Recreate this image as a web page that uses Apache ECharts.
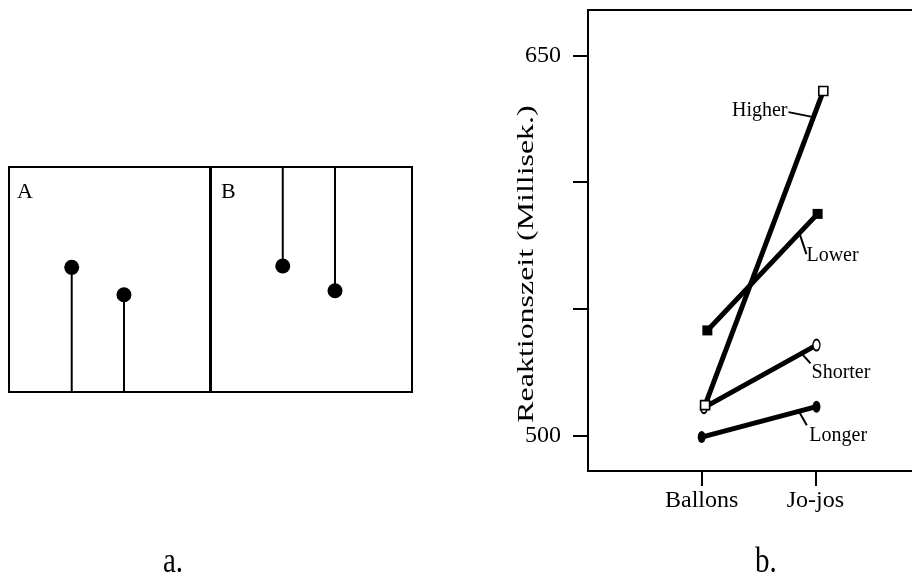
<!DOCTYPE html>
<html><head><meta charset="utf-8">
<script src="https://cdn.jsdelivr.net/npm/echarts@6/dist/echarts.min.js"></script>
<style>html,body{margin:0;padding:0;background:#fff}#c{width:912px;height:576px}</style>
</head><body><div id="c"></div>
<script>
// ---------- data ----------
const categories = ['Ballons', 'Jo-jos'];
const yTickValues = [500, 550, 600, 650];
const yLabelValues = [500, 650];
// panel b: reaction time (ms); X = position on the category scale (0 = Ballons, 1 = Jo-jos), slightly jittered as in the original
const higherX = [0.03, 1.07],  higherY = [512, 636];
const lowerX = [0.05, 1.02],   lowerY = [541.5, 587.5];
const shorterX = [0.02, 1.01], shorterY = [511, 535.7];
const longerX = [0.0, 1.01],   longerY = [499.4, 511.4];
// panel a: dots (x in % of box width, y in % of box height from bottom)
const boxAX = [31.2, 57.2], boxAY = [55.4, 43.2];
const boxBX = [35.7, 61.7], boxBY = [56.0, 45.0];

// ---------- chart ----------
const FONT = '"Liberation Serif", "DejaVu Serif", serif';
const chart = echarts.init(document.getElementById('c'), null, {renderer: 'canvas'});

function pts(xs, ys) { return xs.map((x, i) => [x, ys[i]]); }

function stemSeries(xs, ys, base, gi) {
  return {
    type: 'custom', xAxisIndex: gi, yAxisIndex: gi, silent: true, z: 2,
    data: pts(xs, ys),
    renderItem: (params, api) => {
      const p = api.coord([api.value(0), api.value(1)]);
      const q = api.coord([api.value(0), base]);
      return {type: 'line', shape: {x1: p[0], y1: p[1], x2: q[0], y2: q[1]},
              style: {stroke: '#000', lineWidth: 2}};
    }
  };
}
function dotSeries(xs, ys, gi) {
  return {type: 'scatter', xAxisIndex: gi, yAxisIndex: gi, silent: true, z: 3,
          symbol: 'circle', symbolSize: 15, itemStyle: {color: '#000', opacity: 1}, data: pts(xs, ys)};
}

const annots = [
  {name: 'Higher',  xs: higherX,  ys: higherY,  t: 0.917, lead: [-25, -5], text: [-26, -6],  align: 'right'},
  {name: 'Lower',   xs: lowerX,   ys: lowerY,   t: 0.835, lead: [7, 21],   text: [7, 23],    align: 'left'},
  {name: 'Shorter', xs: shorterX, ys: shorterY, t: 0.867, lead: [9, 10],   text: [10, 19.5], align: 'left'},
  {name: 'Longer',  xs: longerX,  ys: longerY,  t: 0.846, lead: [8, 14],   text: [10.5, 24], align: 'left'}
];

function lineSeries(name, xs, ys, symbol, size, filled) {
  return {
    type: 'line', name, xAxisIndex: 3, yAxisIndex: 2, z: 3, silent: true,
    data: pts(xs, ys), symbol, symbolSize: size, showSymbol: true,
    lineStyle: {color: '#000', width: 5},
    itemStyle: {color: filled ? '#000' : '#fff', borderColor: '#000', borderWidth: filled ? 0 : 1.6, opacity: 1}
  };
}

const showIdx = (i) => i === 1 || i === 2;
const gridBase = {show: true, borderColor: '#000', borderWidth: 2, backgroundColor: 'transparent',
                  containLabel: false, outerBoundsMode: 'none'};

const option = {
  backgroundColor: '#fff',
  animation: false,
  grid: [
    Object.assign({left: 9, top: 167, width: 201, height: 225}, gridBase),
    Object.assign({left: 211, top: 167, width: 201, height: 225}, gridBase),
    Object.assign({left: 588, top: 10, width: 341, height: 461}, gridBase)
  ],
  xAxis: [
    {gridIndex: 0, type: 'value', min: 0, max: 100, show: false},
    {gridIndex: 1, type: 'value', min: 0, max: 100, show: false},
    {gridIndex: 2, type: 'category', data: ['', ...categories, ''], boundaryGap: false,
     axisLine: {onZero: false, lineStyle: {color: '#000', width: 2}},
     axisTick: {interval: showIdx, length: 15, lineStyle: {color: '#000', width: 2}},
     axisLabel: {interval: showIdx, color: '#000', fontFamily: FONT, fontSize: 24, margin: 18},
     splitLine: {show: false}},
    {gridIndex: 2, type: 'value', min: -1, max: 2, show: false, axisLine: {onZero: false}}
  ],
  yAxis: [
    {gridIndex: 0, type: 'value', min: 0, max: 100, show: false},
    {gridIndex: 1, type: 'value', min: 0, max: 100, show: false},
    {gridIndex: 2, type: 'value', min: 486, max: 668,
     axisLine: {show: true, onZero: false, lineStyle: {color: '#000', width: 2}},
     axisTick: {show: true, customValues: yTickValues, length: 15, lineStyle: {color: '#000', width: 2}},
     axisLabel: {customValues: yLabelValues, color: '#000', fontFamily: FONT, fontSize: 24, margin: 27},
     splitLine: {show: false}}
  ],
  series: [
    stemSeries(boxAX, boxAY, 0, 0),
    dotSeries(boxAX, boxAY, 0),
    stemSeries(boxBX, boxBY, 100, 1),
    dotSeries(boxBX, boxBY, 1),
    {
      type: 'custom', xAxisIndex: 3, yAxisIndex: 2, silent: true, z: 1,
      data: annots.map(a => [a.xs[0] + a.t * (a.xs[1] - a.xs[0]), a.ys[0] + a.t * (a.ys[1] - a.ys[0])]),
      renderItem: (params, api) => {
        const a = annots[params.dataIndex];
        const p = api.coord([api.value(0), api.value(1)]);
        return {type: 'group', children: [
          {type: 'line', shape: {x1: p[0], y1: p[1], x2: p[0] + a.lead[0], y2: p[1] + a.lead[1]},
           style: {stroke: '#000', lineWidth: 2}},
          {type: 'text', x: p[0] + a.text[0], y: p[1] + a.text[1],
           style: {text: a.name, fill: '#000', font: '20px ' + FONT, align: a.align, verticalAlign: 'middle'}}
        ]};
      }
    },
    lineSeries('Longer', longerX, longerY, 'circle', [8, 12], true),
    lineSeries('Shorter', shorterX, shorterY, 'circle', [7, 11], false),
    lineSeries('Lower', lowerX, lowerY, 'rect', 10, true),
    lineSeries('Higher', higherX, higherY, 'rect', 9, false)
  ],
  graphic: [
    {type: 'text', x: 17, y: 181, style: {text: 'A', font: '22px ' + FONT, fill: '#000'}},
    {type: 'text', x: 221, y: 181, style: {text: 'B', font: '22px ' + FONT, fill: '#000'}},
    {type: 'text', x: 527, y: 264, rotation: Math.PI / 2, scaleX: 1.33,
     style: {text: 'Reaktionszeit (Millisek.)', font: '24px ' + FONT, fill: '#000', align: 'center', verticalAlign: 'middle'}},
    {type: 'text', x: 163, y: 581, scaleY: 1.25,
     style: {text: 'a.', font: '29px ' + FONT, fill: '#000', align: 'left', verticalAlign: 'bottom'}},
    {type: 'text', x: 755, y: 581, scaleY: 1.25,
     style: {text: 'b.', font: '29px ' + FONT, fill: '#000', align: 'left', verticalAlign: 'bottom'}}
  ]
};
chart.setOption(option);
</script></body></html>
